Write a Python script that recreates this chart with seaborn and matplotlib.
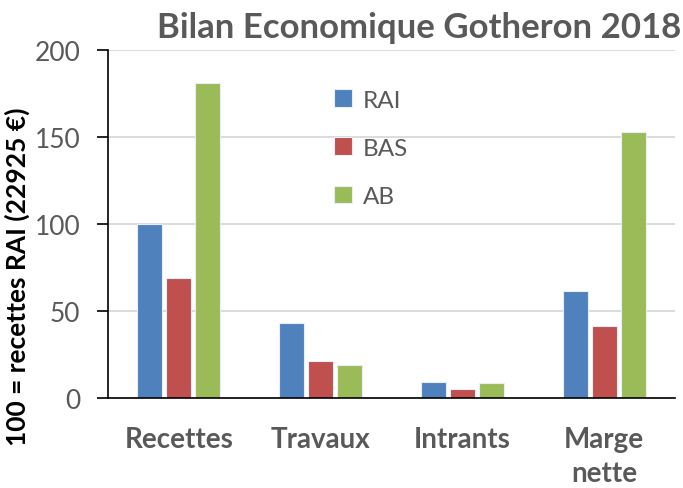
import matplotlib
matplotlib.use("Agg")
import matplotlib.pyplot as plt
import seaborn as sns
import pandas as pd

categories = ["Recettes", "Travaux", "Intrants", "Marge\nnette"]
series = ["RAI", "BAS", "AB"]
rai = [100, 43.1, 9.0, 61.4]
bas = [69.1, 21.4, 5.2, 41.6]
ab = [181, 18.8, 8.4, 153.1]
colors = ["#4F81BD", "#C0504D", "#9BBB59"]
yticks = [0, 50, 100, 150, 200]

rows = []
for name, vals in zip(series, [rai, bas, ab]):
    for c, v in zip(categories, vals):
        rows.append({"cat": c, "serie": name, "val": v})
df = pd.DataFrame(rows)

sns.set_theme(style="white")
plt.rcParams["font.family"] = ["Lato", "DejaVu Sans"]

fig = plt.figure(figsize=(6.83, 4.89), dpi=100)
ax = fig.add_axes([108/683, 1-399/489, (675-108)/683, (399-51)/489])

sns.barplot(data=df, x="cat", y="val", hue="serie", order=categories,
            hue_order=series, palette=colors, width=0.616, gap=0.14,
            ax=ax, saturation=1, errorbar=None, linewidth=0.8,
            edgecolor="#e8eef7")

ax.set_ylim(0, 200)
ax.set_yticks(yticks)
ax.set_yticklabels([str(t) for t in yticks], fontsize=19, color="#595959")
ax.set_xlim(-0.5, 3.5)
ax.yaxis.grid(True, color="#D9D9D9", linewidth=1.3)
ax.set_axisbelow(True)
for s in ["top", "right"]:
    ax.spines[s].set_visible(False)
ax.spines["left"].set_color("black")
ax.spines["bottom"].set_color("black")
ax.spines["left"].set_linewidth(1.2)
ax.spines["bottom"].set_linewidth(1.2)
ax.tick_params(axis="y", which="major", left=True, length=8, width=1.2,
               color="black", direction="out", pad=12)
ax.tick_params(axis="x", bottom=False, pad=14)
for lbl in ax.get_xticklabels():
    lbl.set_fontsize(20)
    lbl.set_fontweight("bold")
    lbl.set_color("#595959")
    lbl.set_linespacing(1.4)

ax.set_xlabel("")
ax.set_ylabel("100 = recettes RAI (22925 €)", fontsize=19, fontweight="bold",
              color="black")
ax.yaxis.set_label_coords(-0.138, 0.35)

fig.text(0.997, 0.975, "Bilan Economique Gotheron 2018", ha="right", va="top",
         fontsize=25, fontweight="bold", color="#595959")

leg = ax.legend(loc="upper left", bbox_to_anchor=(0.36, 0.95), frameon=False,
                fontsize=17.5, labelspacing=1.1, handlelength=0.75,
                handleheight=0.75, handletextpad=0.45)
for t in leg.get_texts():
    t.set_color("#595959")

fig.savefig("out.png", dpi=100)
